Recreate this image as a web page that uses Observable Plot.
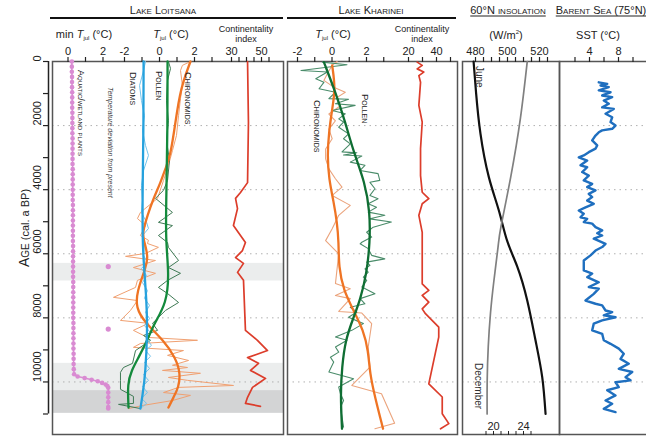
<!DOCTYPE html>
<html><head><meta charset="utf-8">
<script src="https://cdn.jsdelivr.net/npm/d3@7"></script>
<script src="https://cdn.jsdelivr.net/npm/@observablehq/plot@0.6"></script>
<style>
body{margin:0;background:#fff;}
#chart{position:relative;width:646px;height:436px;overflow:hidden;font-family:"Liberation Sans",Arial,Helvetica,sans-serif;color:#222;background:#fff;}
#chart svg{position:absolute;left:0;top:0;max-width:none !important;}
.lbl{position:absolute;white-space:nowrap;line-height:1;}
.sc{font-variant:small-caps;}
.v{writing-mode:vertical-rl;}
.hdr{font-variant:small-caps;font-size:11px;}
sub{font-size:6px;vertical-align:-2px;}
</style></head><body><div id="chart"></div>
<script>
// ---------- DATA ----------
const ageTicks = [0,1000,2000,3000,4000,5000,6000,7000,8000,9000,10000,11000];
const ageLabels = [0,2000,4000,6000,8000,10000];
const gridAges = [2000,4000,6000,8000,10000];
const lightBands = [[6300,6850],[9420,10270]];
const darkBands = [[10270,10980]];

// Lake Loitsana: min T_jul from aquatic/wetland plants [age, °C]
const pinkMinTjul = [
[0,0.22],[160,0.22],[320,0.22],[480,0.23],[640,0.23],[800,0.23],[960,0.24],[1120,0.24],[1280,0.24],[1440,0.24],[1600,0.25],[1760,0.25],[1920,0.25],[2080,0.25],[2240,0.25],[2400,0.26],[2560,0.26],[2720,0.26],[2880,0.26],[3040,0.26],[3200,0.26],[3360,0.27],[3520,0.27],[3680,0.27],[3840,0.27],[4000,0.27],[4160,0.27],[4320,0.27],[4480,0.28],[4640,0.28],[4800,0.28],[4960,0.28],[5120,0.28],[5280,0.28],[5440,0.28],[5600,0.28],[5760,0.29],[5920,0.29],[6080,0.29],[6240,0.29],[6400,0.29],[6560,0.29],[6720,0.29],[6880,0.3],[7040,0.3],[7200,0.3],[7360,0.3],[7520,0.3],[7680,0.3],[7840,0.3],[8000,0.3],[8160,0.31],[8320,0.31],[8480,0.31],[8640,0.31],[8800,0.31],[8960,0.31],[9120,0.32],[9280,0.32],[9440,0.32],[9600,0.33],[9760,0.35],[9830,0.55],[9880,0.95],[9930,1.35],[9980,1.7],[10030,1.95],[10080,2.15],[10130,2.25],[10180,2.3],[10330,2.3],[10480,2.3],[10630,2.3],[10780,2.3],[10830,2.3]];
const pinkIsolated = [[6400,2.3],[8350,2.3]];

// Lake Loitsana T_jul deviation [age, °C]
const diatomThinL = [[0,-0.8],[280,-0.91],[750,-1.14],[1220,-1.03],[1690,-0.86],[2150,-0.97],[2620,-0.8],[2930,-0.63],[3400,-0.91],[3870,-1.03],[4340,-0.97],[4710,-1.03],[5020,-0.74],[5210,-0.63],[5430,-0.97],[5740,-0.86],[6050,-0.91],[6270,-0.69],[6460,-1.03],[6680,-0.74],[6900,-0.97],[7150,-0.69],[7390,-0.86],[7610,-0.57],[7830,-0.8],[8020,-0.57],[8240,-0.86],[8460,-0.51],[8640,-0.74],[8860,-0.46],[9020,-0.8],[9200,-0.51],[9390,-0.86],[9580,-0.57],[9770,-0.91],[9950,-0.63],[10140,-0.97],[10330,-0.69],[10510,-1.03],[10670,-0.74],[10830,-1.09]];
const diatomSmoothL = [[0,-0.91],[1970,-0.91],[3960,-0.97],[5580,-0.97],[6210,-0.91],[7460,-0.74],[8390,-0.69],[9730,-0.8],[10420,-0.97],[10830,-1.09]];
const pollenThinL = [[0,0.51],[220,0.63],[590,0.46],[1220,0.4],[1840,0.51],[2460,0.4],[3090,0.57],[3710,0.46],[4020,0.23],[4270,-0.23],[4710,0.74],[5020,-0.06],[5120,0.74],[5430,-0.06],[5650,0.46],[5800,0.51],[6210,1.09],[6430,0.51],[6610,1.2],[6830,0.46],[7050,-0.06],[7240,0.46],[7520,1.09],[7770,0.34],[8170,-0.4],[8390,-0.11],[8550,-0.91],[8700,-0.51],[9020,-1.37],[9420,-1.54],[9550,-2.06],[9700,-2.23],[9950,-2.23],[10230,-2.23],[10450,-1.49],[10670,-1.49],[10700,-2.34],[10830,-1.09]];
const pollenSmoothL = [[0,0.46],[1970,0.46],[3960,0.4],[5580,0.34],[6610,0.55],[7550,0.4],[8170,-0.3],[8700,-0.69],[9240,-1.2],[9640,-1.6],[10050,-1.83],[10800,-1.77]];
const chiroThinL = [[0,1.77],[120,1.31],[280,1.2],[750,1.31],[1150,1.2],[1680,1.09],[2310,0.97],[2780,0.74],[3240,0.51],[3710,0.23],[4270,-0.11],[4710,-1.09],[4900,-1.26],[5120,-0.8],[5430,-1.09],[5580,-0.63],[5680,-0.69],[5800,-0.06],[5990,-0.8],[6080,-1.94],[6210,-0.23],[6430,-1.49],[6610,-0.23],[6830,-1.26],[7050,-1.37],[7360,-2.63],[7460,-1.26],[7770,-1.66],[8080,-2.23],[8170,-0.63],[8390,-1.49],[8610,-0.69],[8700,2.17],[8800,-1.09],[8920,-1.49],[9020,1.37],[9170,0.46],[9330,1.66],[9480,0.74],[9550,1.6],[9640,0.17],[9730,2.34],[9860,0.51],[9950,1.6],[10110,4.23],[10170,1.09],[10330,0.23],[10420,1.77],[10580,0.74],[10730,-0.91],[10830,-1.77]];
const chiroSmoothL = [[0,1.77],[840,1.2],[1900,0.91],[2930,0.63],[3340,0.34],[3780,0.06],[4270,-0.34],[4800,-0.69],[5330,-0.97],[5580,-0.91],[6120,-0.6],[6610,-0.91],[7150,-1.26],[7680,-1.37],[8170,-0.8],[8700,0.23],[9240,0.91],[9730,1.2],[10170,1.09],[10480,0.8],[10800,0.51]];
// Lake Loitsana continentality index [age, index]
const contL = [[0,40.7],[1900,41.3],[3780,40.7],[4090,36],[4270,32.7],[4590,34],[5120,31.3],[5430,36],[5650,39.3],[5900,37.3],[6120,32.7],[6300,38],[6580,34],[6830,38],[8390,39.3],[8700,47.3],[9020,54],[9240,40.7],[9420,48],[9640,42.7],[9890,52.7],[10170,44],[10480,40.7],[10670,39.3],[10760,49.3]];

// Lake Kharinei T_jul [age, °C]
const pollenThinK = [[20,-0.56],[100,0.87],[280,-1.8],[330,-0.27],[540,-0.94],[650,-0.47],[850,-0.75],[960,0.2],[1160,-0.18],[1180,0.96],[1320,0.2],[1370,1.34],[1530,0.01],[1630,0.77],[1790,0.39],[1890,0.67],[2050,0.39],[2260,0.96],[2410,0.67],[2570,1.06],[2820,0.58],[2850,1.44],[2920,0.67],[2950,1.73],[3140,1.06],[3240,1.91],[3400,1.63],[3500,2.67],[3710,2.77],[3770,2.2],[3970,2.49],[4180,2.2],[4280,2.67],[4440,2.1],[4550,2.58],[4700,2.1],[4800,3.06],[4910,2.2],[5010,3.44],[5170,2.39],[5330,2.01],[5480,2.3],[5640,1.73],[5690,1.63],[5840,2.1],[6050,2.3],[6160,3.06],[6260,2.01],[6360,2.2],[6470,1.91],[6570,2.1],[6730,1.82],[6830,2.01],[7040,1.73],[7250,2.49],[7400,1.63],[7560,1.91],[7670,1.06],[7820,1.44],[7980,0.96],[8180,1.82],[8390,1.15],[8600,0.2],[8700,0.87],[8910,0.2],[9070,0.39],[9230,-0.09],[9380,0.1],[9690,-0.18],[9900,1.25],[10160,0.39],[10370,0.49],[10580,0.67],[10790,0.49],[11100,0.58],[11410,0.67]];
const pollenSmoothK = [[20,-0.47],[960,0.2],[1890,0.77],[2830,1.25],[3770,1.91],[4700,2.2],[5640,2.2],[6620,2.01],[7450,1.63],[7980,1.25],[8700,0.77],[9540,0.58],[10370,0.49],[11460,0.58]];
const chiroThinK = [[0,0.3],[120,0.01],[380,-0.27],[590,-0.47],[800,0.1],[960,0.77],[1120,0.3],[1380,0.49],[1640,-0.18],[1850,0.2],[2110,-0.18],[2410,0.01],[2730,-0.37],[3040,-0.37],[3350,-0.18],[3660,0.2],[3920,0.58],[4180,0.01],[4490,1.06],[4800,0.39],[5220,0.01],[5590,-0.37],[6000,0.39],[6930,0.2],[7090,1.06],[7300,0.2],[7400,1.06],[7800,0.39],[7850,1.73],[8180,2.3],[8910,2.1],[9540,2.2],[10110,1.15],[10370,2.87],[11290,3.63],[11460,2.49]];
const chiroSmoothK = [[120,0.01],[850,0.2],[1480,0.01],[2210,-0.18],[2930,-0.27],[3660,-0.18],[4390,0.1],[5010,0.29],[5640,0.39],[6420,0.39],[7140,0.67],[7770,1.25],[8390,1.82],[9020,2.1],[9750,2.2],[10470,2.49],[11460,2.96]];
// Lake Kharinei continentality index [age, index]
const contK = [[20,26.2],[120,29.8],[230,26.2],[330,30.9],[440,27.4],[650,28.6],[1370,27.4],[1890,29.8],[2720,28.6],[3560,28.6],[4080,29.8],[4280,34.5],[4440,29.8],[4800,27.4],[5330,29.8],[5640,29.8],[6110,29.8],[6940,29.8],[7140,34.5],[7300,29.8],[7510,34.5],[7720,29.8],[7870,32.1],[8290,41.6],[8600,41.6],[10060,34.5],[10470,44.1],[10990,44.1],[11300,48.8],[11460,42.9]];

// 60°N insolation [age, W/m²]
const juneIns = [[0,478.8],[1000,480.4],[2250,483.1],[3600,488.3],[4650,494.6],[5600,499.8],[6400,506.1],[7450,512.3],[8700,517.5],[9850,521.7],[11000,523.8]];
const decIns = [[0,24.5],[1750,23.6],[3600,22.3],[5150,21.0],[5800,20.6],[6850,20.05],[7850,19.6],[8900,19.3],[9950,19.16],[11000,19.15]];

// Barents Sea SST [age, °C]
const sst = [[650,5.28],[700,6.44],[750,5.52],[800,6.66],[900,5.28],[960,6.9],[1060,5.75],[1110,7.13],[1220,5.97],[1320,6.66],[1430,5.75],[1480,7.35],[1630,6.21],[1740,7.13],[1890,6.9],[2000,7.59],[2100,7.13],[2150,5.75],[2210,5.28],[2310,4.83],[2460,4.37],[2620,5.06],[2720,4.83],[2830,3.9],[2930,3.21],[2990,2.52],[3090,3.68],[3240,2.76],[3300,3.68],[3450,2.99],[3560,3.9],[3710,3.21],[3820,4.37],[3920,3.68],[4020,4.83],[4130,3.9],[4230,4.37],[4340,3.68],[4440,4.59],[4550,3.45],[4650,2.52],[4750,3.21],[4860,2.76],[4910,3.68],[5010,3.21],[5060,4.37],[5170,4.83],[5270,5.75],[5360,5.06],[5430,5.75],[5530,4.59],[5690,6.21],[5790,5.75],[5900,4.83],[6050,4.14],[6210,3.21],[6520,3.21],[6620,4.37],[6730,3.68],[6890,5.28],[7040,3.9],[7090,5.28],[7250,4.59],[7460,3.45],[7560,4.83],[7610,5.75],[7770,6.21],[7820,7.13],[7920,5.97],[7980,7.59],[8080,5.75],[8180,4.59],[8390,4.37],[8500,5.75],[8700,5.97],[8810,6.9],[8960,8.04],[9120,8.73],[9280,8.28],[9430,9.42],[9590,8.04],[9690,9.89],[9850,8.97],[9950,9.66],[10010,7.59],[10160,8.04],[10260,6.44],[10420,7.59],[10580,6.21],[10680,7.13],[10840,5.97],[10940,7.59]];

// axis tick values
const minTjulTicks = [0,1,2], minTjulLabels = [0,2];
const tjulTicks = [-2,-1,0,1,2,3], tjulLabels = [-2,0,2];
const contLTicks = [30,35,40,45,50,55], contLLabels = [30,50];
const contKTicks = [20,30,40,50], contKLabels = [20,40];
const juneTicks = [480,485,490,495,500,505,510,515,520,525], juneLabels = [480,500,520];
const decTicks = [19,20,21,22,23,24,25], decLabels = [20,24];
const sstTicks = [2,4,6,8,10], sstLabels = [4,8];

// ---------- DRAWING ----------
const chart = document.getElementById("chart");
const W = 646, H = 436;
const FONT = '"Liberation Sans", Arial, Helvetica, sans-serif';
const yDomain = [0, 11640];
const tbl = arr => arr.map(([age, v]) => ({age, v}));
const lab = labels => d => labels.includes(d) ? String(d) : "";

function layer(o) {
  const w = o.width ?? W;
  const svg = Plot.plot({
    width: w, height: H,
    marginTop: o.top ?? 61, marginBottom: o.bottom ?? 2,
    marginLeft: o.left, marginRight: w - o.right,
    x: {axis: null, ...(o.x || {})},
    y: {domain: yDomain, range: [61, 434], axis: null},
    marks: o.marks,
    style: {background: "transparent", fontFamily: FONT, fontSize: "11px", color: "#222", overflow: "visible", maxWidth: "none"}
  });
  svg.style.position = "absolute"; svg.style.left = "0px"; svg.style.top = "0px";
  svg.style.maxWidth = "none"; svg.style.width = w + "px"; svg.style.height = H + "px";
  chart.appendChild(svg);
}
const topAxis = (ticks, labels) => Plot.axisX({anchor: "top", ticks, tickFormat: lab(labels), tickSize: 5, tickPadding: 2, label: null, strokeWidth: 1.2});
const grid = Plot.ruleY(gridAges, {stroke: "#b0b0b0", strokeDasharray: "1.5,4", strokeWidth: 1});
const frame = Plot.frame({stroke: "#555", strokeWidth: 1.5});
const thin = (data, color, w = 1) => Plot.line(tbl(data), {x: "v", y: "age", stroke: color, strokeWidth: w});
const thick = (data, color, w = 2.3) => Plot.line(tbl(data), {x: "v", y: "age", stroke: color, strokeWidth: w, curve: "basis"});

// Lake Loitsana base
layer({left: 52, right: 283, marks: [
  Plot.rect(lightBands.map(([a, b]) => ({a, b})), {y1: "a", y2: "b", fill: "#ebeded"}),
  Plot.rect(darkBands.map(([a, b]) => ({a, b})), {y1: "a", y2: "b", fill: "#d3d4d5"}),
  grid, frame
]});
// age axis
layer({left: 48, right: 283, x: {domain: [0, 1]}, marks: [
  Plot.ruleX([0], {y1: d3.min(ageTicks), y2: d3.max(ageTicks), stroke: "#222", strokeWidth: 1.5}),
  Plot.axisY({anchor: "left", ticks: ageTicks, tickFormat: () => "", tickSize: 5, label: null, strokeWidth: 1.2}),
  Plot.text(ageLabels, {y: d => d, text: d => String(d), frameAnchor: "left", dx: -11, rotate: -90, fontSize: 11})
]});
// min T_jul
layer({left: 52, right: 283, x: {domain: [0, 2], range: [67.5, 102.5]}, marks: [
  topAxis(minTjulTicks, minTjulLabels),
  Plot.line(tbl(pinkMinTjul), {x: "v", y: "age", stroke: "#d98bd2", strokeWidth: 1.5}),
  Plot.dot(tbl(pinkMinTjul), {x: "v", y: "age", r: 2.3, fill: "#d98bd2"}),
  Plot.dot(tbl(pinkIsolated), {x: "v", y: "age", r: 2.6, fill: "#d98bd2"})
]});
// T_jul Loitsana
layer({left: 52, right: 283, x: {domain: [-2, 2], range: [124, 194]}, marks: [
  topAxis(tjulTicks, tjulLabels),
  thin(chiroThinL, "#f0a071"),
  thin(pollenThinL, "#3f7a55"),
  thin(diatomThinL, "#74c4ec"),
  thick(chiroSmoothL, "#ef7424"),
  thick(pollenSmoothL, "#138a3c"),
  thick(diatomSmoothL, "#25a1dd")
]});
// Continentality Loitsana
layer({left: 52, right: 283, x: {domain: [30, 50], range: [231, 261]}, marks: [
  topAxis(contLTicks, contLLabels),
  Plot.line(tbl(contL), {x: "v", y: "age", stroke: "#dc3d2b", strokeWidth: 1.7})
]});

// Lake Kharinei
layer({left: 287, right: 457, marks: [grid, frame]});
layer({left: 287, right: 457, x: {domain: [-2, 2], range: [297, 366]}, marks: [
  topAxis(tjulTicks, tjulLabels),
  thin(chiroThinK, "#eba47d", 1.1),
  thin(pollenThinK, "#4a8c6a", 1.1),
  thick(chiroSmoothK, "#ef7424"),
  thick(pollenSmoothK, "#0f6e33")
]});
layer({left: 287, right: 457, x: {domain: [20, 40], range: [408, 436]}, marks: [
  topAxis(contKTicks, contKLabels),
  Plot.line(tbl(contK), {x: "v", y: "age", stroke: "#dc3d2b", strokeWidth: 1.7})
]});

// Insolation
layer({left: 462, right: 559, marks: [grid, frame]});
layer({left: 462, right: 559, x: {domain: [480, 520], range: [475, 539]}, marks: [
  topAxis(juneTicks, juneLabels),
  Plot.line(tbl(juneIns), {x: "v", y: "age", stroke: "#111", strokeWidth: 2.2, curve: "natural"})
]});
layer({left: 462, right: 559, top: 434, bottom: 0, x: {domain: [20, 24], range: [493, 523]}, marks: [
  Plot.axisX({anchor: "top", ticks: decTicks, tickFormat: lab(decLabels), tickSize: 4, tickPadding: 1, label: null}),
  Plot.line(tbl(decIns), {x: "v", y: "age", stroke: "#808080", strokeWidth: 1.7, curve: "natural"})
]});

// SST
layer({left: 559, right: 652, width: 660, x: {domain: [4, 8], range: [589, 618]}, marks: [
  grid, frame,
  topAxis(sstTicks, sstLabels),
  Plot.line(tbl(sst), {x: "v", y: "age", stroke: "#1f6fbf", strokeWidth: 2.4})
]});

// ---------- TEXT ----------
function note(html, cx, cy, size, cls = "", rot = 0, extra = "") {
  const d = document.createElement("div");
  d.className = "lbl " + cls;
  d.innerHTML = html;
  d.style.cssText += `left:${cx}px;top:${cy}px;font-size:${size}px;transform:translate(-50%,-50%) rotate(${rot}deg);${extra}`;
  chart.appendChild(d);
}
function vnote(html, cx, top, size, cls = "", extra = "") {
  const d = document.createElement("div");
  d.className = "lbl v " + cls;
  d.innerHTML = html;
  d.style.cssText += `left:${cx - size / 2}px;top:${top}px;font-size:${size}px;${extra}`;
  chart.appendChild(d);
}
function bar(x1, x2, y, h) {
  const d = document.createElement("div");
  d.style.cssText = `position:absolute;left:${x1}px;top:${y}px;width:${x2 - x1}px;height:${h}px;background:#111;`;
  chart.appendChild(d);
}
note("Lake Loitsana", 163, 10, 11, "hdr");
bar(50, 283, 17, 2.2);
note("Lake Kharinei", 371, 10, 11, "hdr");
bar(287, 456, 17, 2.2);
note("60°N insolation", 508, 10, 11, "hdr", 0, "text-decoration:underline;text-underline-offset:2px;");
note("Barent Sea (75°N)", 601, 10, 11, "hdr", 0, "text-decoration:underline;text-underline-offset:2px;");

note("min <i>T</i><sub>jul</sub> (°C)", 84, 35, 11);
note("<i>T</i><sub>jul</sub> (°C)", 171, 35, 11);
note("Continentality", 246, 29, 9);
note("index", 246, 38.5, 9);
note("<i>T</i><sub>jul</sub> (°C)", 333, 35, 11);
note("Continentality", 422, 29, 9);
note("index", 422, 38.5, 9);
note("(W/m<sup style='font-size:6px'>2</sup>)", 506, 35, 11);
note("SST (°C)", 598, 35, 11);

note("<span class='sc' style='font-size:14px'>Age</span> (cal. a BP)", 24, 228, 11, "", -90);

vnote("Aquatic/wetland plants", 80, 70, 9, "sc");
vnote("Temperature deviation from present", 110, 87, 7, "", "font-style:italic;color:#444;");
vnote("Diatoms", 133, 72, 9.5, "sc");
vnote("Pollen", 159, 71, 9.5, "sc");
vnote("Chironomids", 188, 72, 9.5, "sc");
vnote("Pollen", 365, 94, 9.5, "sc");
vnote("Chironomids", 317, 100, 9.5, "sc");
vnote("June", 479, 66, 10, "", "color:#333;");
vnote("December", 478, 363, 10, "", "color:#333;");
</script></body></html>
